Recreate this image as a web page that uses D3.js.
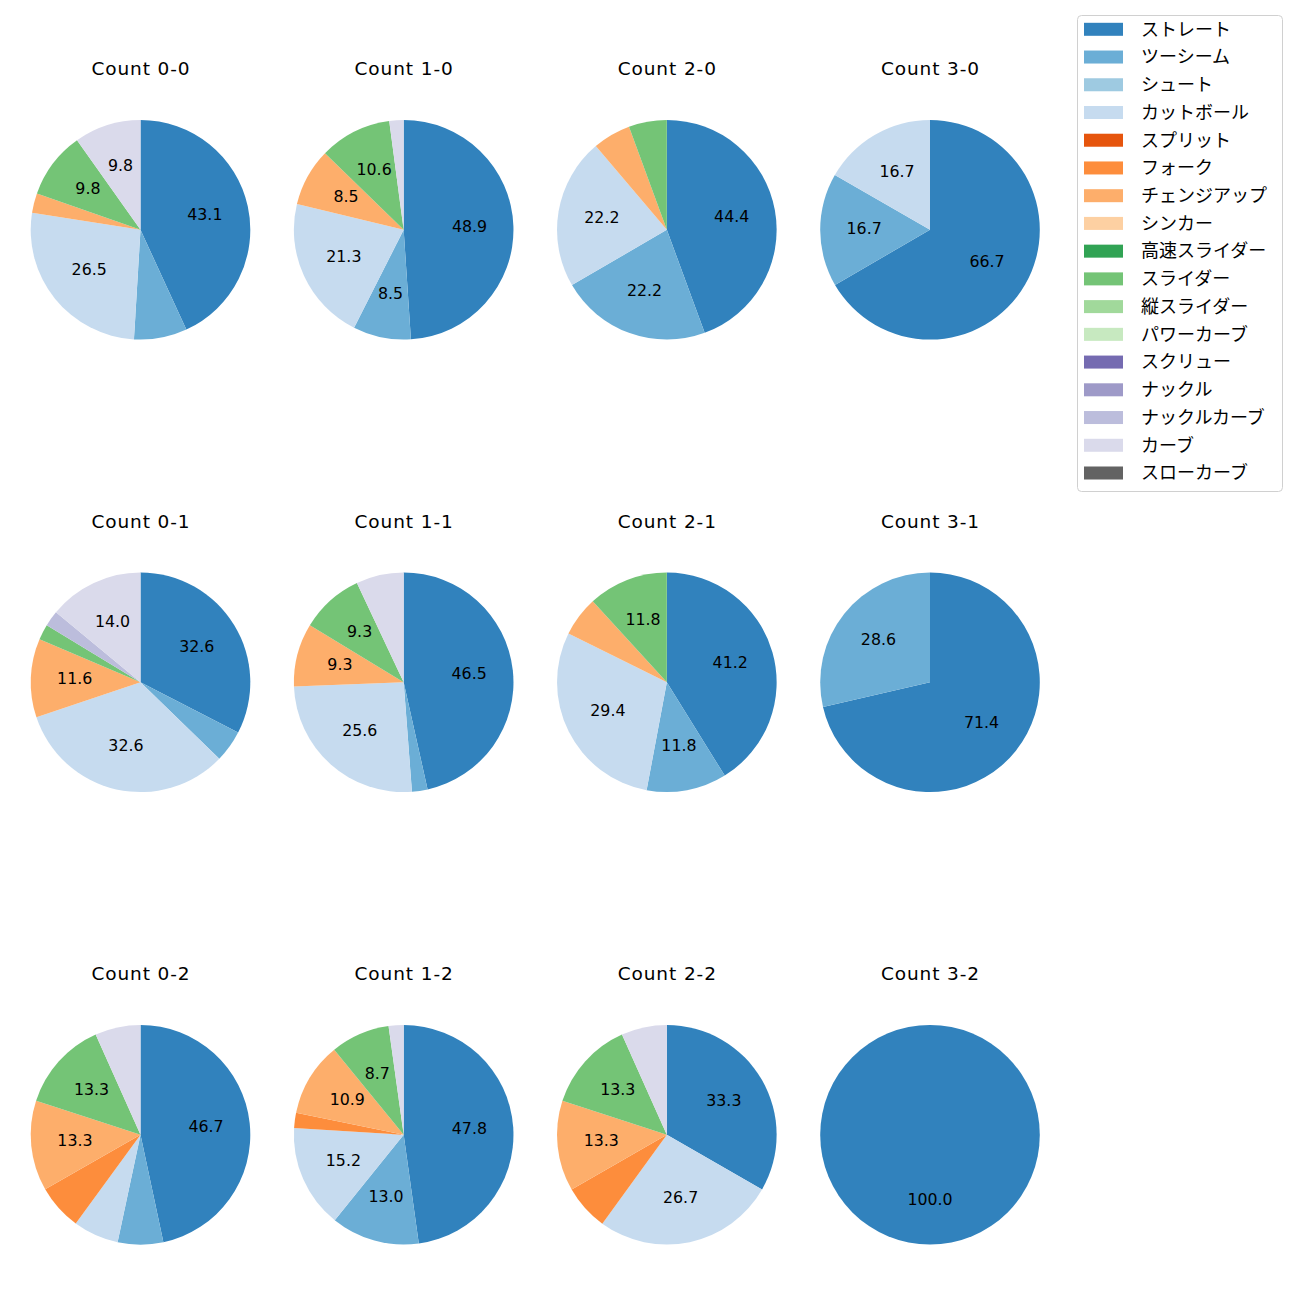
<!DOCTYPE html>
<html><head><meta charset="utf-8">
<script src="https://cdn.jsdelivr.net/npm/d3@7"></script>
<style>body{margin:0;background:#fff}svg{display:block}text{font-family:"Noto Sans CJK JP","Noto Sans",sans-serif}.lat{font-family:"DejaVu Sans",sans-serif}</style>
</head><body><svg id="c" width="1300" height="1300"></svg>
<script>
const pitchTypes = ["ストレート","ツーシーム","シュート","カットボール","スプリット","フォーク","チェンジアップ","シンカー","高速スライダー","スライダー","縦スライダー","パワーカーブ","スクリュー","ナックル","ナックルカーブ","カーブ","スローカーブ"];
const pitchColors = ["#3182bd","#6baed6","#9ecae1","#c6dbef","#e6550d","#fd8d3c","#fdae6b","#fdd0a2","#31a354","#74c476","#a1d99b","#c7e9c0","#756bb1","#9e9ac8","#bcbddc","#dadaeb","#636363"];
const countLabels = ["Count 0-0","Count 1-0","Count 2-0","Count 3-0","Count 0-1","Count 1-1","Count 2-1","Count 3-1","Count 0-2","Count 1-2","Count 2-2","Count 3-2"];
const v00 = [43.1,7.8,0,26.5,0,0,2.9,0,0,9.8,0,0,0,0,0,9.8,0];
const v10 = [48.9,8.5,0,21.3,0,0,8.5,0,0,10.6,0,0,0,0,0,2.1,0];
const v20 = [44.4,22.2,0,22.2,0,0,5.6,0,0,5.6,0,0,0,0,0,0,0];
const v30 = [66.7,16.7,0,16.7,0,0,0,0,0,0,0,0,0,0,0,0,0];
const v01 = [32.6,4.7,0,32.6,0,0,11.6,0,0,2.3,0,0,0,0,2.3,14.0,0];
const v11 = [46.5,2.3,0,25.6,0,0,9.3,0,0,9.3,0,0,0,0,0,7.0,0];
const v21 = [41.2,11.8,0,29.4,0,0,5.9,0,0,11.8,0,0,0,0,0,0,0];
const v31 = [71.4,28.6,0,0,0,0,0,0,0,0,0,0,0,0,0,0,0];
const v02 = [46.7,6.7,0,6.7,0,6.7,13.3,0,0,13.3,0,0,0,0,0,6.7,0];
const v12 = [47.8,13.0,0,15.2,0,2.2,10.9,0,0,8.7,0,0,0,0,0,2.2,0];
const v22 = [33.3,0,0,26.7,0,6.7,13.3,0,0,13.3,0,0,0,0,0,6.7,0];
const v32 = [100,0,0,0,0,0,0,0,0,0,0,0,0,0,0,0,0];
const countValues = [v00,v10,v20,v30,v01,v11,v21,v31,v02,v12,v22,v32];

const svg = d3.select("#c");
const colX = d3.scaleLinear().domain([0,3]).range([140.5,930]);
const rowY = d3.scaleLinear().domain([0,2]).range([229.8,1134.8]);
const R = 109.8;
const color = d3.scaleOrdinal().domain(pitchTypes).range(pitchColors);
const pie = d3.pie().sort(null).value(d=>d.v).startAngle(0).endAngle(2*Math.PI);
const arc = d3.arc().innerRadius(0).outerRadius(R);
const labelArc = d3.arc().innerRadius(R*0.6).outerRadius(R*0.6);

countLabels.forEach((title,i)=>{
  const cx = colX(i%4), cy = rowY(Math.floor(i/4));
  const g = svg.append("g").attr("transform",`translate(${cx},${cy})`);
  const data = pitchTypes.map((p,j)=>({p,v:countValues[i][j]})).filter(d=>d.v>0);
  const arcs = pie(data);
  g.selectAll("path").data(arcs).join("path").attr("d",arc).attr("fill",d=>color(d.data.p));
  g.selectAll("text.l").data(arcs.filter(d=>d.data.v>=8)).join("text").attr("class","l lat")
    .attr("transform",d=>{const c=labelArc.centroid(d);return `translate(${c[0]},${c[1]-1.5})`;})
    .attr("text-anchor","middle").attr("dy","0.36em").attr("font-size",15.8).attr("fill","#000")
    .text(d=>d.data.v.toFixed(1));
  svg.append("text").attr("class","lat").attr("x",cx+0.45).attr("y",cy-161).attr("text-anchor","middle").attr("dy","0.36em")
    .attr("font-size",18.5).attr("letter-spacing",0.9).attr("fill","#000").text(title);
});

// legend
const lg = svg.append("g");
lg.append("rect").attr("x",1077.5).attr("y",15.5).attr("width",205).attr("height",476).attr("rx",4)
  .attr("fill","#fff").attr("stroke","#d0d0d0").attr("stroke-width",1);
const ly = d3.scaleLinear().domain([0,pitchTypes.length-1]).range([29.3,473]);
pitchTypes.forEach((p,j)=>{
  lg.append("rect").attr("x",1084).attr("y",ly(j)-6.5).attr("width",39).attr("height",13).attr("fill",color(p));
  lg.append("text").attr("x",1141).attr("y",ly(j)).attr("dy","0.35em").attr("font-size",18).attr("fill","#000").text(p);
});
</script></body></html>
